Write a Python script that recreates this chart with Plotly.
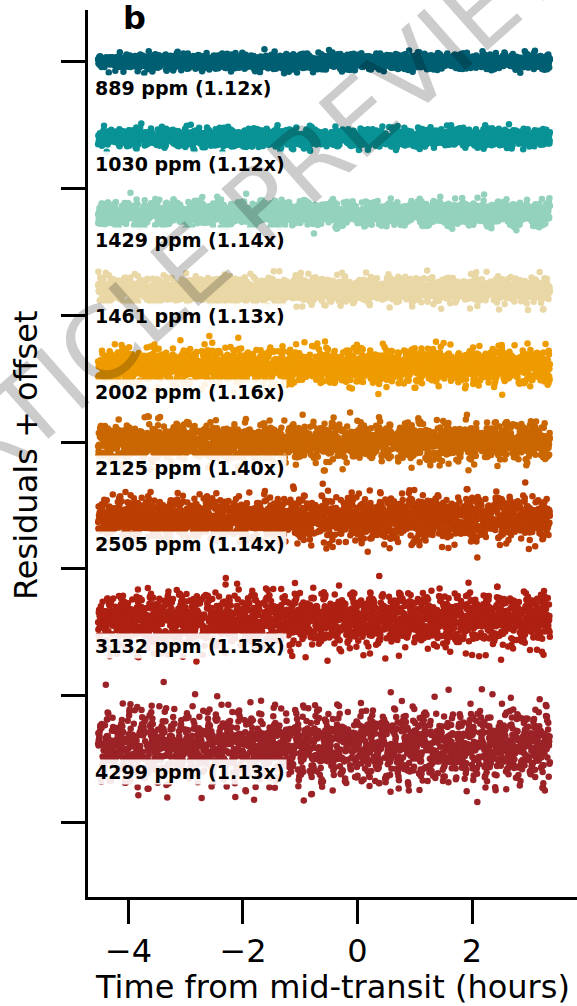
import numpy as np
import plotly.graph_objects as go

# Residual scatter per wavelength bin (ppm) and its ratio to photon noise
ppm = [889, 1030, 1429, 1461, 2002, 2125, 2505, 3132, 4299]
noise_factor = [1.12, 1.12, 1.14, 1.13, 1.16, 1.40, 1.14, 1.15, 1.13]
# Vertical offset applied to each residual curve (ppm)
offsets = [0, -18000, -36000, -54000, -72000, -90000, -108000, -132000, -162000]
colors = ["#005f73", "#0a9396", "#94d2bd", "#e9d8a6", "#ee9b00",
          "#ca6702", "#bb3e03", "#ae2012", "#9b2226"]

# Exposure times (hours from mid-transit)
t_first, t_last, n_exp = -4.53, 3.36, 2000
x_ticks = [-4, -2, 0, 2]
y_ticks = [0, -30000, -60000, -90000, -120000, -150000, -180000]

# Standardized residual draws, combined per bin below
resid_a = [0.42, -1.13, 0.08, 1.57, -0.64, -0.21, 0.93, -1.82, 0.35, 0.71,
           -0.47, 1.26, -0.02, -0.95, 2.14, -0.33, 0.58, -1.41, 0.19, -0.76,
           1.04, -0.12, -2.37, 0.66, 0.27, -0.58, 1.71, -1.07, 0.49, -0.29,
           0.86, -1.60, 0.13, 1.38, -0.85, -0.06, 0.61, -1.24, 2.02, -0.41,
           0.31, -0.69, 1.12, -1.95, 0.04, 0.77, -0.38, -1.01, 1.49, -0.17,
           0.54, -2.71, 0.92, 0.23, -0.52, 1.19, -0.88, 0.11, -1.33, 0.68,
           1.84, -0.26, -0.73, 0.39, -1.52, 0.97, 0.16, -0.44, 2.48, -1.16,
           0.07, -0.61, 1.31, -0.09, -1.78, 0.52, 0.83, -0.31, -1.05, 1.63,
           -0.55, 0.28, -0.91, 1.08, -2.12, 0.45, -0.15, 0.74, -1.29, 0.01,
           1.92, -0.67, 0.36, -1.44, 0.59, -0.23, 1.21, -0.81, -0.36, 3.05,
           -1.67, 0.24, 0.89, -0.50, -0.98, 1.42, -0.04, 0.63, -1.19, 0.18,
           -2.05, 1.00, -0.27, 0.47, -0.79, 1.55, -0.13, -1.36, 0.72, 0.33,
           -0.62, 2.29, -1.09, -0.19, 0.95, -0.45, 0.12, -3.12]
resid_b = [-0.37, 1.22, -0.84, 0.06, 0.55, -1.48, 0.91, -0.18, 1.76, -0.63,
           0.29, -1.02, 0.14, -2.21, 0.67, 1.35, -0.41, -0.07, 0.82, -1.27,
           0.46, -0.71, 1.97, 0.02, -0.96, 0.38, -1.58, 1.09, -0.24, 0.71,
           -0.53, 2.33, -1.14, 0.17, -0.34, 0.99, -1.86, 0.43, 0.25, -0.78,
           1.45, -0.11, -1.23, 0.62, 0.09, -0.49, 1.68, -0.92, 0.34, -2.56,
           0.81, -0.16, 1.15, -0.66, 0.51, -1.39, 0.03, 0.76, -0.28, 2.07,
           -1.71, 0.41, -0.86, 0.22, 1.28, -0.57, -0.10, 0.94, -1.20, 0.57,
           -0.32, 1.60, -2.00, 0.15, 0.69, -0.44, -1.05, 1.37, 0.26, -0.74,
           0.48, -1.55, 1.03, -0.20, 2.61, -0.89, 0.32, -0.60, 0.87, -1.31,
           0.10, -0.39, 1.18, -0.97, 0.60, -1.66, 0.20]

# ---- figure geometry (pixels) ----
W, H = 577, 1006
ML, MR, MT, MB = 88, 0, 10, 109
X_RANGE = [-4.707, 3.834]
Y_RANGE = [-197630, 12230]


def px_x(px):
    return (px - ML) / (W - ML - MR)


def px_y(py):
    return (H - MB - py) / (H - MB - MT)


time = np.linspace(t_first, t_last, n_exp)
a = np.array(resid_a)
b = np.array(resid_b)
idx = np.arange(n_exp)

fig = go.Figure()
strides = [(5, 3, 7, 11), (13, 17, 5, 2), (21, 40, 19, 30), (29, 9, 23, 61),
           (37, 71, 31, 8), (45, 100, 41, 77), (53, 25, 47, 44),
           (61, 88, 53, 15), (69, 57, 59, 90)]
for k in range(len(ppm)):
    pa, qa, pb, qb = strides[k]
    r = 0.8 * a[(idx * pa + qa) % len(a)] + 0.6 * b[(idx * pb + qb) % len(b)]
    r = (r - r.mean()) / r.std()
    fig.add_trace(go.Scatter(
        x=time, y=offsets[k] + ppm[k] * r, mode="markers",
        marker=dict(size=6.5, color=colors[k], line=dict(width=0)),
        showlegend=False, hoverinfo="skip"))

annotations = []
for k in range(len(ppm)):
    annotations.append(dict(
        xref="paper", yref="y", x=px_x(93), y=offsets[k], yshift=-26,
        xanchor="left", yanchor="middle", showarrow=False,
        text=f"<b>{ppm[k]} ppm ({noise_factor[k]:.2f}x)</b>",
        font=dict(family="DejaVu Sans", size=19, color="black"),
        bgcolor="rgba(255,255,255,0.9)", borderpad=1))

annotations += [
    dict(xref="paper", yref="paper", x=px_x(134.5), y=px_y(18),
         text="<b>b</b>", showarrow=False, xanchor="center", yanchor="middle",
         font=dict(family="DejaVu Sans", size=32, color="black")),
    dict(xref="paper", yref="paper", x=px_x(26), y=px_y(455),
         text="Residuals + offset", textangle=-90, showarrow=False,
         xanchor="center", yanchor="middle",
         font=dict(family="DejaVu Sans", size=32, color="black")),
    dict(xref="paper", yref="paper", x=px_x(332), y=px_y(987),
         text="Time from mid-transit (hours)", showarrow=False,
         xanchor="center", yanchor="middle",
         font=dict(family="DejaVu Sans", size=32, color="black")),
    dict(xref="paper", yref="paper", x=px_x(243), y=px_y(220),
         text="ARTICLE PREVIEW", textangle=-41.5, showarrow=False,
         xanchor="center", yanchor="middle",
         font=dict(family="DejaVu Sans", size=100, color="rgba(0,0,0,0.2)")),
]

fig.update_layout(
    width=W, height=H, margin=dict(l=ML, r=MR, t=MT, b=MB),
    paper_bgcolor="white", plot_bgcolor="white",
    font=dict(family="DejaVu Sans", color="black"),
    annotations=annotations,
    xaxis=dict(range=X_RANGE, tickvals=x_ticks, ticks="outside", ticklen=24,
               tickwidth=3, tickcolor="black", showline=True, linewidth=3,
               linecolor="black", showgrid=False, zeroline=False,
               tickfont=dict(family="DejaVu Sans", size=32, color="black")),
    yaxis=dict(range=Y_RANGE, tickvals=y_ticks, ticks="outside", ticklen=24,
               tickwidth=3, tickcolor="black", showline=True, linewidth=3,
               linecolor="black", showgrid=False, zeroline=False,
               showticklabels=False),
)

fig.write_html("out.html")
